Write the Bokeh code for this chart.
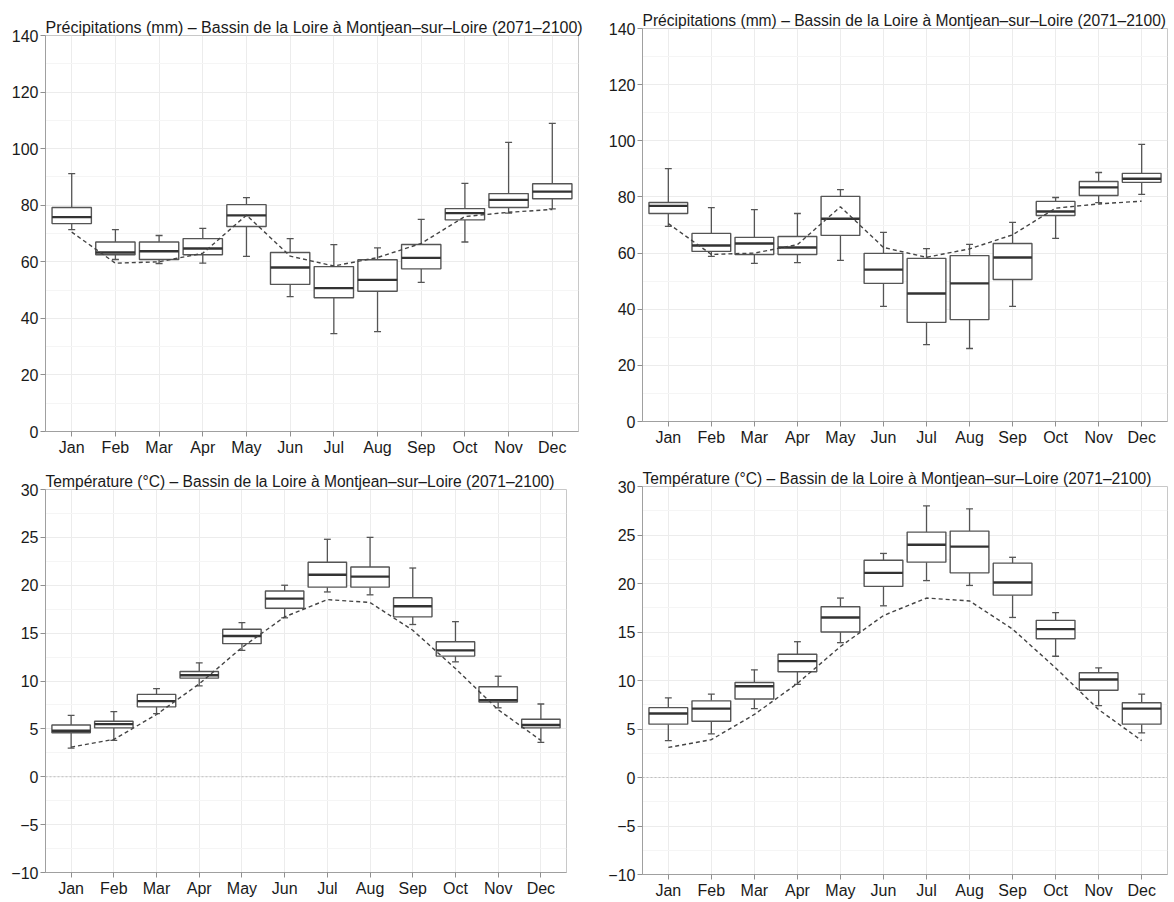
from bokeh.plotting import figure
from bokeh.layouts import column, row
from bokeh.models import Range1d, FixedTicker, Span
from bokeh.embed import file_html
from bokeh.resources import INLINE

months = ["Jan", "Feb", "Mar", "Apr", "May", "Jun", "Jul", "Aug", "Sep", "Oct", "Nov", "Dec"]
month_pos = list(range(1, 13))

precip_title = "Précipitations (mm) – Bassin de la Loire à Montjean–sur–Loire (2071–2100)"
temp_title = "Température (°C) – Bassin de la Loire à Montjean–sur–Loire (2071–2100)"

precip_ticks = [0, 20, 40, 60, 80, 100, 120, 140]
precip_minor = [10, 30, 50, 70, 90, 110, 130]
temp_ticks = [-10, -5, 0, 5, 10, 15, 20, 25, 30]
temp_minor = [-7.5, -2.5, 2.5, 7.5, 12.5, 17.5, 22.5, 27.5]
temp_tick_labels = ["−10", "−5", "0", "5", "10", "15", "20", "25", "30"]

# reference (dashed) curves
precip_ref = [70.5, 59.5, 60.0, 63.0, 76.5, 62.0, 58.5, 61.5, 66.5, 76.0, 77.5, 78.5]
temp_ref = [3.1, 3.9, 6.5, 9.7, 13.5, 16.7, 18.5, 18.2, 15.3, 11.3, 7.0, 3.8]

# precipitation, left panel
pa_lo = [71.4, 60.8, 59.4, 59.5, 61.9, 47.7, 34.6, 35.3, 52.7, 67.0, 77.2, 78.7]
pa_q1 = [73.5, 62.5, 60.8, 62.5, 72.5, 52.0, 47.3, 49.6, 57.5, 74.8, 79.2, 82.3]
pa_med = [75.8, 63.3, 63.7, 64.7, 76.4, 58.0, 50.7, 53.6, 61.4, 77.2, 81.9, 84.8]
pa_q3 = [79.2, 67.0, 67.0, 68.2, 80.2, 63.3, 58.3, 60.7, 66.1, 78.8, 84.1, 87.6]
pa_hi = [91.2, 71.4, 69.3, 71.8, 82.7, 68.2, 66.1, 64.9, 75.0, 87.7, 102.2, 108.9]

# precipitation, right panel
pb_lo = [69.5, 58.8, 56.3, 56.6, 57.4, 41.0, 27.4, 26.0, 41.0, 65.2, 78.0, 80.9]
pb_q1 = [74.1, 60.6, 59.5, 59.5, 66.3, 49.2, 35.3, 36.3, 50.6, 73.4, 80.5, 85.2]
pb_med = [76.8, 62.7, 63.4, 62.0, 72.2, 54.1, 45.6, 49.2, 58.4, 74.8, 83.4, 86.5]
pb_q3 = [78.0, 67.0, 65.6, 65.9, 80.2, 59.9, 58.1, 59.1, 63.4, 78.4, 85.5, 88.4]
pb_hi = [90.1, 76.2, 75.5, 74.1, 82.6, 67.4, 61.6, 63.1, 70.9, 79.8, 88.7, 98.7]

# temperature, left panel
ta_lo = [3.0, 3.8, 6.6, 9.5, 13.2, 16.6, 19.3, 19.0, 15.9, 12.0, 7.2, 3.6]
ta_q1 = [4.6, 5.1, 7.3, 10.3, 13.9, 17.6, 19.8, 19.8, 16.7, 12.6, 7.8, 5.1]
ta_med = [4.8, 5.5, 7.9, 10.6, 14.7, 18.6, 21.1, 20.9, 17.8, 13.2, 8.0, 5.4]
ta_q3 = [5.4, 5.8, 8.6, 11.0, 15.4, 19.4, 22.4, 21.9, 18.7, 14.1, 9.4, 6.0]
ta_hi = [6.4, 6.8, 9.2, 11.9, 16.1, 20.0, 24.8, 25.0, 21.8, 16.2, 10.5, 7.6]

# temperature, right panel
tb_lo = [3.8, 4.5, 7.1, 9.6, 13.9, 17.7, 20.3, 19.8, 16.5, 12.5, 7.4, 4.6]
tb_q1 = [5.5, 5.8, 8.1, 10.9, 15.0, 19.7, 22.2, 21.1, 18.8, 14.3, 9.0, 5.5]
tb_med = [6.6, 7.1, 9.4, 12.0, 16.5, 21.1, 24.0, 23.8, 20.1, 15.3, 10.1, 7.1]
tb_q3 = [7.2, 7.9, 9.8, 12.7, 17.6, 22.4, 25.3, 25.4, 22.1, 16.2, 10.8, 7.7]
tb_hi = [8.2, 8.6, 11.1, 14.0, 18.5, 23.1, 28.0, 27.7, 22.7, 17.0, 11.3, 8.6]

FONT = "Liberation Sans"
BOX_W = 0.9
CAP_W = 0.16


def panel(title, title_size, lo, q1, med, q3, hi, ref, yr, ticks, minor, labels,
          width, height, bl, br, bt, bb, zero_line=False):
    p = figure(width=width, height=height, output_backend="svg", toolbar_location=None,
               x_range=Range1d(0.4, 12.6), y_range=Range1d(*yr),
               min_border_left=bl, min_border_right=br, min_border_top=bt, min_border_bottom=bb)
    p.title.text = title
    p.title.text_font = FONT
    p.title.text_font_size = title_size
    p.title.text_font_style = "normal"
    p.title.text_color = "#1a1a1a"
    p.title.align = "left"
    p.title.offset = 0
    p.title.standoff = 0
    p.background_fill_color = "white"
    p.border_fill_color = "white"
    p.outline_line_color = "#c8c8c8"
    p.outline_line_width = 1

    p.xaxis.ticker = FixedTicker(ticks=month_pos)
    p.xaxis.major_label_overrides = {m: lab for m, lab in zip(month_pos, months)}
    p.yaxis.ticker = FixedTicker(ticks=ticks, minor_ticks=minor)
    if labels is not None:
        p.yaxis.major_label_overrides = {t: lab for t, lab in zip(ticks, labels)}
    for ax in (p.xaxis, p.yaxis):
        ax.axis_line_color = "#a0a0a0"
        ax.major_tick_line_color = "#909090"
        ax.major_tick_in = 0
        ax.major_tick_out = 5
        ax.minor_tick_line_color = None
        ax.major_label_text_font = FONT
        ax.major_label_text_font_size = "16px"
        ax.major_label_text_color = "#1a1a1a"
        ax.major_label_standoff = 2
    p.xgrid.grid_line_color = "#ececec"
    p.ygrid.grid_line_color = "#ececec"
    p.ygrid.minor_grid_line_color = "#f5f5f5"

    if zero_line:
        p.add_layout(Span(location=0, dimension="width", line_color="#c0c0c0",
                          line_dash="2 2", line_width=1))

    left = [x - BOX_W / 2 for x in month_pos]
    right = [x + BOX_W / 2 for x in month_pos]
    cl = [x - CAP_W / 2 for x in month_pos]
    cr = [x + CAP_W / 2 for x in month_pos]
    wc = "#555555"
    p.segment(x0=month_pos, y0=q3, x1=month_pos, y1=hi, line_color=wc, line_width=1.3)
    p.segment(x0=month_pos, y0=lo, x1=month_pos, y1=q1, line_color=wc, line_width=1.3)
    p.segment(x0=cl, y0=hi, x1=cr, y1=hi, line_color=wc, line_width=1.3)
    p.segment(x0=cl, y0=lo, x1=cr, y1=lo, line_color=wc, line_width=1.3)
    p.vbar(x=month_pos, width=BOX_W, top=q3, bottom=q1, fill_color="white",
           line_color="#555555", line_width=1.4)
    p.segment(x0=left, y0=med, x1=right, y1=med, line_color="#333333", line_width=2.4)
    p.line(month_pos, ref, line_color="#444444", line_dash="4 3", line_width=1.4)
    return p


# top-left: frame x 45..578, y 35..431
p1 = panel(precip_title, "16px", pa_lo, pa_q1, pa_med, pa_q3, pa_hi, precip_ref, (0, 140),
           precip_ticks, precip_minor, None, 605, 459, 45, 27, 35, 28)
# top-right: frame x 637..1167, y 28..421
p2 = panel(precip_title, "15.6px", pb_lo, pb_q1, pb_med, pb_q3, pb_hi, precip_ref, (0, 140),
           precip_ticks, precip_minor, None, 569, 449, 32, 7, 28, 28)
# bottom-left: frame x 45..566, y 489..872
p3 = panel(temp_title, "15.6px", ta_lo, ta_q1, ta_med, ta_q3, ta_hi, temp_ref, (-10, 30),
           temp_ticks, temp_minor, temp_tick_labels, 605, 441, 45, 39, 30, 28, zero_line=True)
# bottom-right: frame x 639..1167, y 486..875
p4 = panel(temp_title, "15.6px", tb_lo, tb_q1, tb_med, tb_q3, tb_hi, temp_ref, (-10, 30),
           temp_ticks, temp_minor, temp_tick_labels, 569, 442, 34, 7, 27, 26, zero_line=True)

layout = column(row(column(p1), column(p2)), row(column(p3), column(p4)))
open("out.html", "w").write(file_html(layout, INLINE))
